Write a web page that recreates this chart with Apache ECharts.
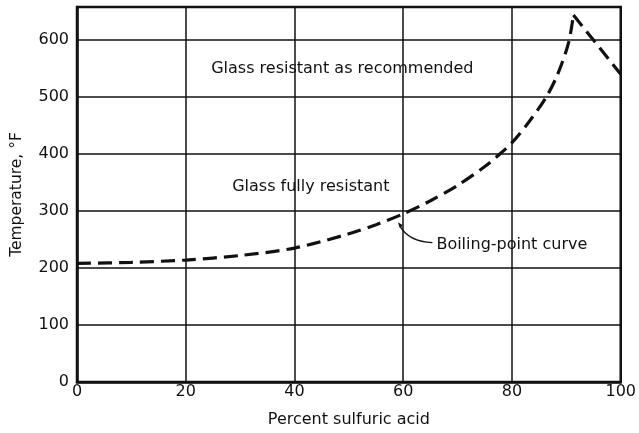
<!DOCTYPE html>
<html>
<head>
<meta charset="utf-8">
<script src="https://cdn.jsdelivr.net/npm/echarts@6/dist/echarts.min.js"></script>
<style>
  html, body { margin: 0; padding: 0; background: #fff; }
  #chart { width: 639px; height: 433px; }
</style>
</head>
<body>
<div id="chart"></div>
<script>
// Boiling point of aqueous sulfuric acid vs. concentration
const risePct  = [0, 10, 20, 30, 40, 50, 55, 60, 65, 70, 75, 77.4, 80, 83, 86.3, 88.4, 90.4, 91.3];
const riseTemp = [208, 210, 214, 222, 235, 260, 276, 295, 318, 345, 378, 397, 420, 455, 500, 540, 595, 644];
const fallPct  = [91.3, 100];
const fallTemp = [644, 540];

const xTicks = [0, 20, 40, 60, 80, 100];
const yTicks = [0, 100, 200, 300, 400, 500, 600];
const yMax = 658;

const FONT = 'DejaVu Sans';
const INK = '#111';

const chart = echarts.init(document.getElementById('chart'), null, { renderer: 'canvas' });

const dashed = { color: INK, width: 3.2, type: [14, 7] };

chart.setOption({
  animation: false,
  backgroundColor: '#fff',
  grid: { left: 77, right: 16, top: 7, bottom: 45, show: false },
  xAxis: {
    type: 'value', min: 0, max: 100, interval: 20,
    name: 'Percent sulfuric acid', nameLocation: 'middle', nameGap: 30,
    nameTextStyle: { fontFamily: FONT, fontSize: 16, color: INK },
    axisLine: { show: true, lineStyle: { color: INK, width: 2.5 } },
    axisTick: { show: false },
    axisLabel: {
      fontFamily: FONT, fontSize: 16, color: INK, margin: 2,
      formatter: v => xTicks.includes(v) ? String(v) : ''
    },
    splitLine: { show: true, lineStyle: { color: INK, width: 1.5 } }
  },
  yAxis: {
    type: 'value', min: 0, max: yMax, interval: 100,
    name: 'Temperature, °F', nameLocation: 'middle', nameGap: 52, nameRotate: 90,
    nameTextStyle: { fontFamily: FONT, fontSize: 15.5, color: INK },
    axisLine: { show: true, lineStyle: { color: INK, width: 2.5 } },
    axisTick: { show: false },
    axisLabel: {
      fontFamily: FONT, fontSize: 16, color: INK, margin: 8, showMaxLabel: false,
      formatter: v => yTicks.includes(v) ? String(v) : ''
    },
    splitLine: { show: true, lineStyle: { color: INK, width: 1.5 } }
  },
  series: [
    {
      type: 'line', smooth: 0.3, showSymbol: false, symbol: 'none',
      data: risePct.map((x, i) => [x, riseTemp[i]]),
      lineStyle: dashed, z: 5
    },
    {
      type: 'line', smooth: false, showSymbol: false, symbol: 'none',
      data: fallPct.map((x, i) => [x, fallTemp[i]]),
      lineStyle: dashed, z: 5
    }
  ]
});

// Region labels, a leader to the curve and the plot frame, placed from data coordinates
function px(x, y) { return chart.convertToPixel({ gridIndex: 0 }, [x, y]); }

const pTop = px(48.8, 549);
const pMid = px(43.0, 342);
const pLbl = px(66.1, 241);
const pTip = px(59.2, 277);
const p00 = px(0, 0);
const p11 = px(100, yMax);

const tx = { fontFamily: FONT, fontSize: 16, fill: INK };

chart.setOption({
  graphic: [
    {
      type: 'rect', silent: true, z: 10,
      shape: { x: p00[0], y: p11[1], width: p11[0] - p00[0], height: p00[1] - p11[1] },
      style: { fill: 'none', stroke: INK, lineWidth: 2.5 }
    },
    {
      type: 'text', x: pTop[0], y: pTop[1], z: 10,
      style: Object.assign({ text: 'Glass resistant as recommended', align: 'center', verticalAlign: 'middle' }, tx)
    },
    {
      type: 'text', x: pMid[0], y: pMid[1], z: 10,
      style: Object.assign({ text: 'Glass fully resistant', align: 'center', verticalAlign: 'middle' }, tx)
    },
    {
      type: 'text', x: pLbl[0], y: pLbl[1], z: 10,
      style: Object.assign({ text: 'Boiling-point curve', align: 'left', verticalAlign: 'middle' }, tx)
    },
    {
      type: 'bezierCurve', z: 10,
      shape: {
        x1: pTip[0] + 1, y1: pTip[1] + 2,
        cpx1: pTip[0] + 10, cpy1: pLbl[1] - 3,
        x2: pLbl[0] - 4, y2: pLbl[1] - 2
      },
      style: { stroke: INK, lineWidth: 1.3, fill: 'none' }
    },
    {
      type: 'polygon', z: 10,
      shape: { points: [[pTip[0] - 1, pTip[1] - 2], [pTip[0] + 4, pTip[1] + 1], [pTip[0] + 1, pTip[1] + 4]] },
      style: { fill: INK }
    }
  ]
});
</script>
</body>
</html>
